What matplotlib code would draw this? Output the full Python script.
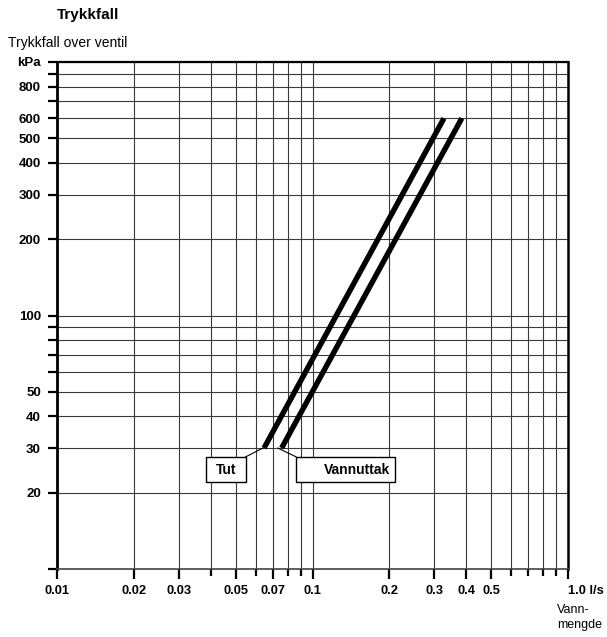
import matplotlib
matplotlib.use("Agg")
import matplotlib.pyplot as plt
import numpy as np
from matplotlib.patches import Rectangle

plt.rcParams["font.family"] = ["Liberation Sans", "DejaVu Sans"]

# curves: flow (l/s) vs pressure drop (kPa), read at the end points
tut_flow = [0.0646, 0.327]
tut_kpa = [30, 600]
vann_flow = [0.0757, 0.384]
vann_kpa = [30, 600]

x_major = [0.01, 0.02, 0.03, 0.05, 0.07, 0.1, 0.2, 0.3, 0.4, 0.5, 1.0]
x_major_labels = ["0.01", "0.02", "0.03", "0.05", "0.07", "0.1", "0.2", "0.3", "0.4", "0.5", "1.0 l/s"]
x_minor = [0.04, 0.06, 0.08, 0.09, 0.6, 0.7, 0.8, 0.9]

y_major = [20, 30, 40, 50, 100, 200, 300, 400, 500, 600, 800, 1000]
y_major_labels = ["20", "30", "40", "50", "100", "200", "300", "400", "500", "600", "800", "kPa"]
y_minor = [10, 60, 70, 80, 90, 700, 900]

fig = plt.figure(figsize=(6.07, 6.37), dpi=100)
ax = fig.add_axes([57 / 607, 1 - 569 / 637, 511 / 607, 507 / 637])
ax.set_xscale("log")
ax.set_yscale("log")
ax.set_xlim(0.01, 1.0)
ax.set_ylim(10, 1000)

ax.set_xticks(x_major)
ax.set_xticklabels(x_major_labels)
ax.set_xticks(x_minor, minor=True)
ax.set_xticklabels([], minor=True)
ax.set_yticks(y_major)
ax.set_yticklabels(y_major_labels)
ax.set_yticks(y_minor, minor=True)
ax.set_yticklabels([], minor=True)

ax.grid(True, which="both", color="#3a3a3a", lw=0.8)
ax.set_axisbelow(True)

ax.tick_params(axis="x", which="major", direction="out", length=7.5, width=1.6, color="black",
               pad=4, labelsize=9.3)
ax.tick_params(axis="x", which="minor", direction="out", length=5, width=1.6, color="black")
ax.tick_params(axis="y", which="both", direction="out", length=6.5, width=1.6, color="black",
               pad=5, labelsize=9.5)
for lab in ax.get_xticklabels() + ax.get_yticklabels():
    lab.set_fontweight("bold")
ax.get_xticklabels()[-1].set_horizontalalignment("left")

ax.spines["left"].set_linewidth(2)
ax.spines["top"].set_linewidth(1.6)
ax.spines["right"].set_linewidth(1.8)
ax.spines["bottom"].set_linewidth(1.2)
ax.spines["bottom"].set_color("#444444")

ax.plot(tut_flow, tut_kpa, color="black", lw=3.9, solid_capstyle="butt")
ax.plot(vann_flow, vann_kpa, color="black", lw=3.9, solid_capstyle="butt")

# label boxes with leader lines
boxes = [
    ("Tut", (0.0383, 0.0548), (22.0, 27.7), (0.0548, 27.7), (0.064, 30.0), 0.5),
    ("Vannuttak", (0.0862, 0.2103), (22.0, 27.7), (0.0862, 27.7), (0.0731, 30.0), 0.62),
]
for text, (x0, x1), (y0, y1), start, end, tpos in boxes:
    ax.add_patch(Rectangle((x0, y0), x1 - x0, y1 - y0, facecolor="white",
                           edgecolor="black", lw=1.0, zorder=4))
    ax.plot([start[0], end[0]], [start[1], end[1]], color="black", lw=0.8, zorder=4)
    tx = 10 ** (np.log10(x0) + tpos * (np.log10(x1) - np.log10(x0)))
    ty = (y0 * y1) ** 0.5
    ax.text(tx, ty, text, ha="center", va="center", fontsize=10, fontweight="bold", zorder=5)

fig.text(57 / 607, 1 - 19 / 637, "Trykkfall", fontsize=11, fontweight="bold", ha="left", va="baseline")
fig.text(8 / 607, 1 - 47 / 637, "Trykkfall over ventil", fontsize=10, ha="left", va="baseline")
fig.text(557 / 607, 1 - 613 / 637, "Vann-", fontsize=9, ha="left", va="baseline")
fig.text(557 / 607, 1 - 628 / 637, "mengde", fontsize=9, ha="left", va="baseline")

fig.savefig("out.png", dpi=100)
